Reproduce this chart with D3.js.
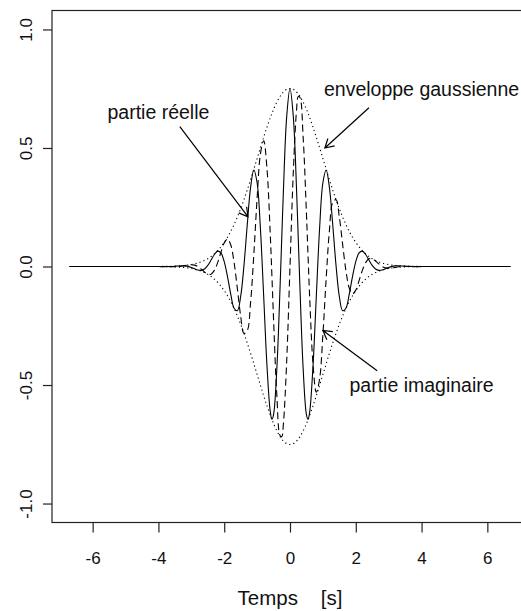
<!DOCTYPE html>
<html>
<head>
<meta charset="utf-8">
<script src="https://cdn.jsdelivr.net/npm/d3@7/dist/d3.min.js"></script>
<style>
  html, body { margin: 0; padding: 0; background: #fff; }
  svg { display: block; }
  text { font-family: "Liberation Sans", Arial, sans-serif; fill: #111; }
</style>
</head>
<body>
<svg id="chart" width="521" height="611"></svg>
<script>
// ---- Data ----
const times = [-6.7,
  -4.0,-3.9,-3.8,-3.7,-3.6,-3.5,-3.4,-3.3,-3.2,-3.1,-3.0,-2.9,-2.8,-2.7,-2.6,-2.5,-2.4,-2.3,-2.2,-2.1,
  -2.0,-1.9,-1.8,-1.7,-1.6,-1.5,-1.4,-1.3,-1.2,-1.1,-1.0,-0.9,-0.8,-0.7,-0.6,-0.55,-0.5,-0.4,-0.3,-0.25,-0.2,-0.1,
  0.0,
  0.1,0.2,0.25,0.3,0.4,0.5,0.55,0.6,0.7,0.8,0.9,1.0,1.1,1.2,1.3,1.4,1.5,1.6,1.7,1.8,1.9,2.0,
  2.1,2.2,2.3,2.4,2.5,2.6,2.7,2.8,2.9,3.0,3.1,3.2,3.3,3.4,3.5,3.6,3.7,3.8,3.9,4.0,
  6.7];

const partieReelle = [0,
  -0.0003,-0.0004,-0.0004,-0.0002,0.0003,0.0012,0.0023,0.0030,0.0027,0.0005,-0.0038,-0.0097,-0.0149,-0.0163,-0.0105,0.0045,0.0271,0.0507,0.0648,0.0573,
  0.0206,-0.0430,-0.1178,-0.1763,-0.1866,-0.1266,0.0039,0.1752,0.3313,0.4071,0.3534,0.1612,-0.1256,-0.4186,-0.6125,-0.6445,-0.6245,-0.4303,-0.0783,0.1238,0.3208,0.6333,
  0.7511,
  0.6333,0.3208,0.1238,-0.0783,-0.4303,-0.6245,-0.6445,-0.6125,-0.4186,-0.1256,0.1612,0.3534,0.4071,0.3313,0.1752,0.0039,-0.1266,-0.1866,-0.1763,-0.1178,-0.0430,0.0206,
  0.0573,0.0648,0.0507,0.0271,0.0045,-0.0105,-0.0163,-0.0149,-0.0097,-0.0038,0.0005,0.0027,0.0030,0.0023,0.0012,0.0003,-0.0002,-0.0004,-0.0004,-0.0003,
  0];

const partieImaginaire = [0,
  0.0001,-0.0001,-0.0003,-0.0008,-0.0012,-0.0011,-0.0004,0.0012,0.0036,0.0062,0.0074,0.0057,-0.0004,-0.0109,-0.0233,-0.0327,-0.0324,-0.0164,0.0163,0.0598,
  0.0996,0.1158,0.0905,0.0168,-0.0936,-0.2084,-0.2819,-0.2709,-0.1547,0.0504,0.2876,0.4743,0.5307,0.4128,0.1360,-0.0398,-0.2220,-0.5438,-0.7138,-0.7174,-0.6627,-0.3970,
  0,
  0.3970,0.6627,0.7174,0.7138,0.5438,0.2220,0.0398,-0.1360,-0.4128,-0.5307,-0.4743,-0.2876,-0.0504,0.1547,0.2709,0.2819,0.2084,0.0936,-0.0168,-0.0905,-0.1158,-0.0996,
  -0.0598,-0.0163,0.0164,0.0324,0.0327,0.0233,0.0109,0.0004,-0.0057,-0.0074,-0.0062,-0.0036,-0.0012,0.0004,0.0011,0.0012,0.0008,0.0003,0.0001,-0.0001,
  0];

const enveloppe = [0,
  0.0003,0.0004,0.0005,0.0008,0.0012,0.0016,0.0023,0.0032,0.0045,0.0062,0.0083,0.0112,0.0149,0.0196,0.0256,0.0330,0.0422,0.0533,0.0668,0.0828,
  0.1017,0.1235,0.1486,0.1771,0.2088,0.2438,0.2819,0.3226,0.3656,0.4102,0.4556,0.5010,0.5454,0.5879,0.6274,0.6457,0.6628,0.6934,0.7181,0.7280,0.7362,0.7474,
  0.7511,
  0.7474,0.7362,0.7280,0.7181,0.6934,0.6628,0.6457,0.6274,0.5879,0.5454,0.5010,0.4556,0.4102,0.3656,0.3226,0.2819,0.2438,0.2088,0.1771,0.1486,0.1235,0.1017,
  0.0828,0.0668,0.0533,0.0422,0.0330,0.0256,0.0196,0.0149,0.0112,0.0083,0.0062,0.0045,0.0032,0.0023,0.0016,0.0012,0.0008,0.0005,0.0004,0.0003,
  0];

const xTicks = [-6, -4, -2, 0, 2, 4, 6];
const yTicks = [-1.0, -0.5, 0.0, 0.5, 1.0];
const xTitle = "Temps    [s]";

const annotLabels = ["partie réelle", "enveloppe gaussienne", "partie imaginaire"];
const annotX = [-4, 4, 4];
const annotY = [0.65, 0.75, -0.5];
const arrowFromX = [-3.35, 2.4, 2.65];
const arrowFromY = [0.59, 0.67, -0.44];
const arrowToX = [-1.28, 1.06, 1.0];
const arrowToY = [0.21, 0.5, -0.27];

// ---- Drawing ----
const svg = d3.select("#chart");
const x = d3.scaleLinear().domain([-7.236, 7.236]).range([52, 528]);
const y = d3.scaleLinear().domain([-1.08, 1.08]).range([522.5, 10.5]);

const ink = "#111";

// plot box
svg.append("rect")
  .attr("x", x.range()[0]).attr("y", y.range()[1])
  .attr("width", x.range()[1] - x.range()[0])
  .attr("height", y.range()[0] - y.range()[1])
  .attr("fill", "none").attr("stroke", "#222").attr("stroke-width", 1.2);

// x axis
const gx = svg.append("g").attr("transform", `translate(0,${y.range()[0]})`)
  .call(d3.axisBottom(x).tickValues(xTicks).tickSize(10).tickFormat(d => String(d)));
gx.select(".domain").remove();
gx.selectAll(".tick line").attr("stroke", "#222").attr("stroke-width", 1.2);
gx.selectAll(".tick text").attr("y", 41).attr("dy", 0)
  .attr("font-size", 17).attr("fill", ink)
  .style("font-family", '"Liberation Sans", Arial, sans-serif');

// y axis
const gy = svg.append("g").attr("transform", `translate(${x.range()[0]},0)`)
  .call(d3.axisLeft(y).tickValues(yTicks).tickSize(9).tickFormat(d => d.toFixed(1)));
gy.select(".domain").remove();
gy.selectAll(".tick line").attr("stroke", "#222").attr("stroke-width", 1.2);
gy.selectAll(".tick text")
  .attr("x", 0).attr("y", -20.5).attr("dy", 0)
  .attr("transform", "rotate(-90)")
  .attr("text-anchor", "middle")
  .attr("font-size", 17).attr("fill", ink)
  .style("font-family", '"Liberation Sans", Arial, sans-serif');

// x title
svg.append("text")
  .attr("x", x(0)).attr("y", 605)
  .attr("text-anchor", "middle")
  .attr("font-size", 20.5)
  .attr("xml:space", "preserve")
  .style("white-space", "pre")
  .text(xTitle);

// curves
const idx = d3.range(times.length);
const curve = d3.curveCatmullRom.alpha(0.5);
const lineOf = (vals, sign) => d3.line()
  .x(i => x(times[i]))
  .y(i => y(sign * vals[i]))
  .curve(curve)(idx);

svg.append("path").attr("d", lineOf(partieReelle, 1))
  .attr("fill", "none").attr("stroke", "#000").attr("stroke-width", 1.1);

svg.append("path").attr("d", lineOf(partieImaginaire, 1))
  .attr("fill", "none").attr("stroke", "#000").attr("stroke-width", 1.1)
  .attr("stroke-dasharray", "7,4");

[1, -1].forEach(s => {
  svg.append("path").attr("d", lineOf(enveloppe, s))
    .attr("fill", "none").attr("stroke", "#000").attr("stroke-width", 1.1)
    .attr("stroke-dasharray", "1.2,3");
});

// annotations
annotLabels.forEach((lab, i) => {
  svg.append("text")
    .attr("x", x(annotX[i])).attr("y", y(annotY[i]))
    .attr("dy", "0.35em")
    .attr("text-anchor", "middle")
    .attr("font-size", 19.5)
    .text(lab);

  const x0 = x(arrowFromX[i]), y0 = y(arrowFromY[i]);
  const x1 = x(arrowToX[i]), y1 = y(arrowToY[i]);
  const ang = Math.atan2(y1 - y0, x1 - x0);
  const L = 10, a = Math.PI / 6;
  const p = d3.path();
  p.moveTo(x0, y0); p.lineTo(x1, y1);
  p.moveTo(x1 - L * Math.cos(ang - a), y1 - L * Math.sin(ang - a));
  p.lineTo(x1, y1);
  p.lineTo(x1 - L * Math.cos(ang + a), y1 - L * Math.sin(ang + a));
  svg.append("path").attr("d", p.toString())
    .attr("fill", "none").attr("stroke", "#000").attr("stroke-width", 1.2);
});
</script>
</body>
</html>
